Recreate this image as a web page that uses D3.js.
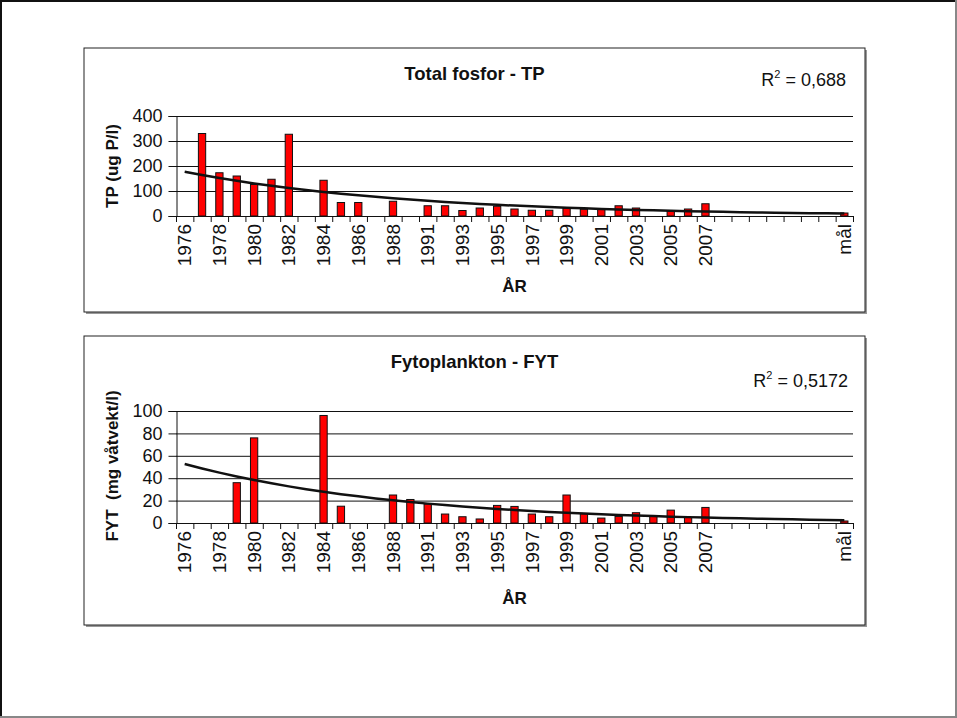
<!DOCTYPE html>
<html>
<head>
<meta charset="utf-8">
<script src="https://cdn.jsdelivr.net/npm/d3@7"></script>
<style>
  html, body { margin: 0; padding: 0; background: #fff; }
  svg { display: block; font-family: "Liberation Sans", Arial, sans-serif; }
</style>
</head>
<body>
<svg id="chart" width="957" height="718"></svg>
<script>
// Categories (Excel labels every other one; the years after 2007 are blank)
const categories = ["1976", "1977", "1978", "1979", "1980", "1981", "1982", "1983", "1984", "1985",
    "1986", "1987", "1988", "1990", "1991", "1992", "1993", "1994", "1995", "1996",
    "1997", "1998", "1999", "2000", "2001", "2002", "2003", "2004", "2005", "2006",
    "2007", "", "", "", "", "", "", "", "mål"];

// Total fosfor (ug P/l), null = no value
const tpValues = [null, 330, 173, 160, 126, 147, 327, null, 143, 54,
    54, null, 59, null, 41, 41, 22, 32, 39, 28,
    23, 23, 31, 27, 28, 41, 32, null, 20, 28,
    49, null, null, null, null, null, null, null, 12];

// Fytoplankton (mg våtvekt/l)
const fytValues = [null, null, null, 36, 76, null, null, null, 96, 15,
    null, null, 25, 21, 17, 8, 5.6, 3.6, 15.7, 14.8,
    8, 5.6, 25, 8.3, 4.4, 5.9, 9.2, 5.9, 11.5, 5,
    13.9, null, null, null, null, null, null, null, 1.8];

const tpTicks = [0, 100, 200, 300, 400];
const fytTicks = [0, 20, 40, 60, 80, 100];

const svg = d3.select("#chart");

// outer frame: dark top/left, grey bottom/right
svg.append("line").attr("x1", 0).attr("y1", 1).attr("x2", 957).attr("y2", 1).attr("stroke", "#111").attr("stroke-width", 2);
svg.append("line").attr("x1", 1).attr("y1", 0).attr("x2", 1).attr("y2", 718).attr("stroke", "#111").attr("stroke-width", 2);
svg.append("line").attr("x1", 956).attr("y1", 0).attr("x2", 956).attr("y2", 718).attr("stroke", "#888").attr("stroke-width", 2);
svg.append("line").attr("x1", 0).attr("y1", 717).attr("x2", 957).attr("y2", 717).attr("stroke", "#888").attr("stroke-width", 2);

// Excel style exponential trendline, fitted on ln(y) with x = 1..n
function expTrend(values) {
    const pts = values.map((v, i) => [i + 1, v]).filter(p => p[1] != null && p[1] > 0);
    const mx = d3.mean(pts, p => p[0]);
    const my = d3.mean(pts, p => Math.log(p[1]));
    const sxy = d3.sum(pts, p => (p[0] - mx) * (Math.log(p[1]) - my));
    const sxx = d3.sum(pts, p => (p[0] - mx) * (p[0] - mx));
    const b = sxy / sxx;
    const a = Math.exp(my - b * mx);
    return values.map((v, i) => a * Math.exp(b * (i + 1)));
}

function drawChart(cfg) {
    const g = svg.append("g");

    // chart box with small shadow
    g.append("rect")
        .attr("x", cfg.box.x + 2).attr("y", cfg.box.y + 2)
        .attr("width", cfg.box.w).attr("height", cfg.box.h)
        .attr("fill", "#999");
    g.append("rect")
        .attr("x", cfg.box.x).attr("y", cfg.box.y)
        .attr("width", cfg.box.w).attr("height", cfg.box.h)
        .attr("fill", "#fff").attr("stroke", "#222").attr("stroke-width", 1);

    const x = d3.scaleBand()
        .domain(d3.range(categories.length))
        .range([cfg.plot.left, cfg.plot.right])
        .paddingInner(0.58)
        .paddingOuter(0.29);
    const step = x.step();

    const y = d3.scaleLinear()
        .domain([0, cfg.max])
        .range([cfg.plot.bottom, cfg.plot.top]);

    // gridlines
    g.selectAll(".grid")
        .data(cfg.ticks.filter(t => t > 0))
        .join("line")
        .attr("x1", cfg.plot.left).attr("x2", cfg.plot.right)
        .attr("y1", d => y(d) + 0.5).attr("y2", d => y(d) + 0.5)
        .attr("stroke", "#111").attr("stroke-width", 1);

    // y axis
    const yAxis = d3.axisLeft(y).tickValues(cfg.ticks).tickSize(8).tickPadding(6).tickFormat(d3.format("d"));
    const ya = g.append("g")
        .attr("transform", `translate(${cfg.plot.left + 0.5},0)`)
        .call(yAxis);
    ya.select(".domain").attr("stroke", "#111");
    ya.selectAll(".tick line").attr("stroke", "#111");
    ya.selectAll(".tick text").attr("font-size", 18).attr("fill", "#111")
        .attr("font-family", "Liberation Sans, Arial, sans-serif");

    // bars
    g.selectAll(".bar")
        .data(cfg.values.map((v, i) => ({ i, v })).filter(d => d.v != null))
        .join("rect")
        .attr("x", d => x(d.i))
        .attr("y", d => y(d.v))
        .attr("width", x.bandwidth())
        .attr("height", d => y(0) - y(d.v))
        .attr("fill", "#ff0000")
        .attr("stroke", "#111")
        .attr("stroke-width", 1);

    // trendline
    const trend = expTrend(cfg.values);
    g.append("path")
        .datum(trend)
        .attr("fill", "none")
        .attr("stroke", "#111")
        .attr("stroke-width", 2.5)
        .attr("d", d3.line()
            .x((d, i) => x(i) + x.bandwidth() / 2)
            .y(d => y(d)));

    // x axis line and ticks at category boundaries
    g.append("line")
        .attr("x1", cfg.plot.left).attr("x2", cfg.plot.right)
        .attr("y1", y(0) + 0.5).attr("y2", y(0) + 0.5)
        .attr("stroke", "#111");
    g.selectAll(".xtick")
        .data(d3.range(categories.length + 1))
        .join("line")
        .attr("x1", i => cfg.plot.left + i * step + 0.5)
        .attr("x2", i => cfg.plot.left + i * step + 0.5)
        .attr("y1", y(0)).attr("y2", y(0) + 6)
        .attr("stroke", "#111");

    // category labels, every other one
    g.selectAll(".xlabel")
        .data(categories.map((c, i) => ({ c, i })).filter(d => d.i % 2 === 0 && d.c !== ""))
        .join("text")
        .attr("transform", d => `translate(${x(d.i) + x.bandwidth() / 2},${y(0) + 8}) rotate(-90)`)
        .attr("text-anchor", "end")
        .attr("dy", "0.35em")
        .attr("font-size", 19)
        .attr("fill", "#111")
        .text(d => d.c);

    // titles: chart title centred on the chart box
    g.append("text")
        .attr("x", cfg.box.x + cfg.box.w / 2)
        .attr("y", cfg.titleY)
        .attr("text-anchor", "middle")
        .attr("font-size", 18.5).attr("font-weight", "bold").attr("fill", "#111")
        .text(cfg.title);

    const r2 = g.append("text")
        .attr("x", cfg.r2X).attr("y", cfg.r2Y)
        .attr("text-anchor", "end")
        .attr("font-size", 18).attr("fill", "#111");
    r2.append("tspan").text("R");
    r2.append("tspan").attr("font-size", 11).attr("dy", -8).text("2");
    r2.append("tspan").attr("dy", 8).text(" = " + cfg.r2);

    g.append("text")
        .attr("x", (cfg.plot.left + cfg.plot.right) / 2)
        .attr("y", cfg.xTitleY)
        .attr("text-anchor", "middle")
        .attr("font-size", 17).attr("font-weight", "bold").attr("fill", "#111")
        .text("ÅR");

    g.append("text")
        .attr("transform", `translate(${cfg.yTitleX},${cfg.yTitleY}) rotate(-90)`)
        .attr("text-anchor", "middle")
        .attr("font-size", 17).attr("font-weight", "bold").attr("fill", "#111")
        .style("white-space", "pre")
        .text(cfg.yTitle);
}

drawChart({
    box: { x: 84, y: 48, w: 781, h: 264 },
    plot: { left: 176, right: 853, top: 116, bottom: 216 },
    values: tpValues,
    ticks: tpTicks,
    max: 400,
    title: "Total fosfor - TP",
    titleY: 80,
    r2: "0,688",
    r2X: 846, r2Y: 86,
    xTitleY: 292,
    yTitle: "TP (ug P/l)",
    yTitleX: 118, yTitleY: 166
});

drawChart({
    box: { x: 84, y: 336, w: 781, h: 289 },
    plot: { left: 176, right: 853, top: 411, bottom: 523 },
    values: fytValues,
    ticks: fytTicks,
    max: 100,
    title: "Fytoplankton - FYT",
    titleY: 368,
    r2: "0,5172",
    r2X: 848, r2Y: 387,
    xTitleY: 604,
    yTitle: "FYT  (mg våtvekt/l)",
    yTitleX: 118, yTitleY: 466
});
</script>
</body>
</html>
